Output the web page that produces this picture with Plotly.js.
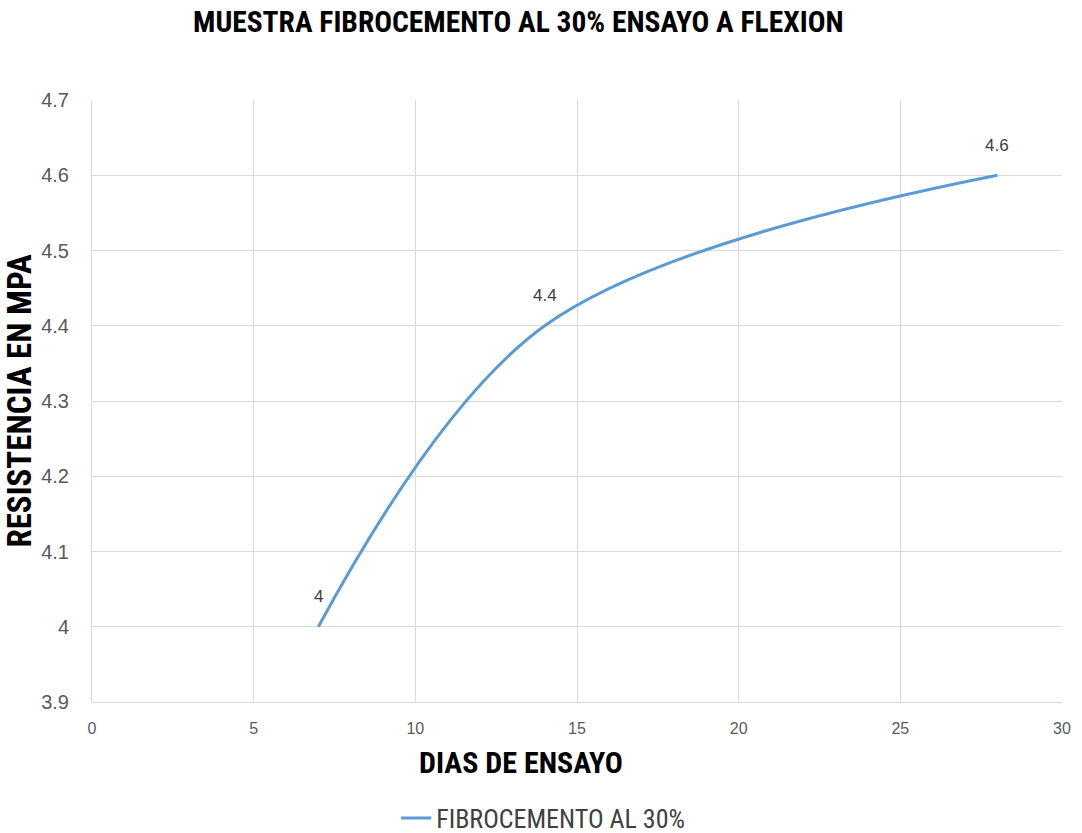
<!DOCTYPE html>
<html>
<head>
<meta charset="utf-8">
<script src="https://cdn.plot.ly/plotly-3.0.1.min.js"></script>
<style>html,body{margin:0;padding:0;background:#fff;}#chart{width:1082px;height:833px;}</style>
</head>
<body>
<div id="chart"></div>
<script>
const dias = [7, 14, 28];
const resistencia = [4, 4.4, 4.6];
const etiquetas = ["4", "4.4", "4.6"];
const serieNombre = "FIBROCEMENTO AL 30%";
const xTicks = [0, 5, 10, 15, 20, 25, 30];
const yTicks = [3.9, 4, 4.1, 4.2, 4.3, 4.4, 4.5, 4.6, 4.7];
const xTitulo = "DIAS DE ENSAYO";
const yTitulo = "RESISTENCIA EN MPA";
const titulo = "MUESTRA FIBROCEMENTO AL 30% ENSAYO A FLEXION";

const narrow = '"Liberation Sans Narrow", "Arial Narrow", "Roboto Condensed", "Liberation Sans", Arial, sans-serif';
const regular = '"Liberation Sans", Arial, sans-serif';

const trace = {
  x: dias, y: resistencia, type: 'scatter', mode: 'lines', name: serieNombre,
  line: {color: '#5b9bd5', width: 3, shape: 'spline', smoothing: 1},
  hoverinfo: 'none'
};

const annotations = dias.map((d, i) => ({
  x: d, y: resistencia[i], text: etiquetas[i], showarrow: false, yshift: 30,
  font: {family: regular, size: 17, color: '#404040'}
}));
annotations.push({
  xref: 'paper', yref: 'paper', x: 0.442, y: -0.0997, xanchor: 'center', yanchor: 'middle',
  text: '<b>' + xTitulo + '</b>', showarrow: false,
  font: {family: narrow, size: 30, color: '#000'}
});

const layout = {
  width: 1082, height: 833,
  margin: {l: 92, r: 20, t: 100, b: 131},
  paper_bgcolor: '#fff', plot_bgcolor: '#fff',
  title: {text: '<b>' + titulo + '</b>', x: 0.479, xanchor: 'center', y: 0.974, yanchor: 'middle',
          font: {family: narrow, size: 29.5, color: '#000'}},
  xaxis: {range: [0, 30], tickvals: xTicks, ticktext: xTicks.map(String), showgrid: true, gridcolor: '#d9d9d9', gridwidth: 1,
          zeroline: false, showline: true, linecolor: '#d9d9d9', ticks: '', ticklen: 0, ticklabelstandoff: 12,
          tickfont: {family: regular, size: 16, color: '#595959'}},
  yaxis: {range: [3.9, 4.7], tickvals: yTicks, ticktext: yTicks.map(v => String(v)), showgrid: true, gridcolor: '#d9d9d9', gridwidth: 1,
          zeroline: false, showline: true, linecolor: '#d9d9d9', ticks: '', ticklen: 0, ticklabelstandoff: 18,
          tickfont: {family: regular, size: 20, color: '#595959'}, automargin: true,
          title: {text: '<b>' + yTitulo + '</b>', font: {family: narrow, size: 33, color: '#000'}, standoff: 6}},
  showlegend: true,
  legend: {orientation: 'h', x: 0.502, xanchor: 'center', xref: 'container', y: 0.018, yanchor: 'middle', yref: 'container',
           font: {family: narrow, size: 26, color: '#404040'}},
  annotations: annotations
};

Plotly.newPlot('chart', [trace], layout, {displayModeBar: false, staticPlot: true});
</script>
</body>
</html>
